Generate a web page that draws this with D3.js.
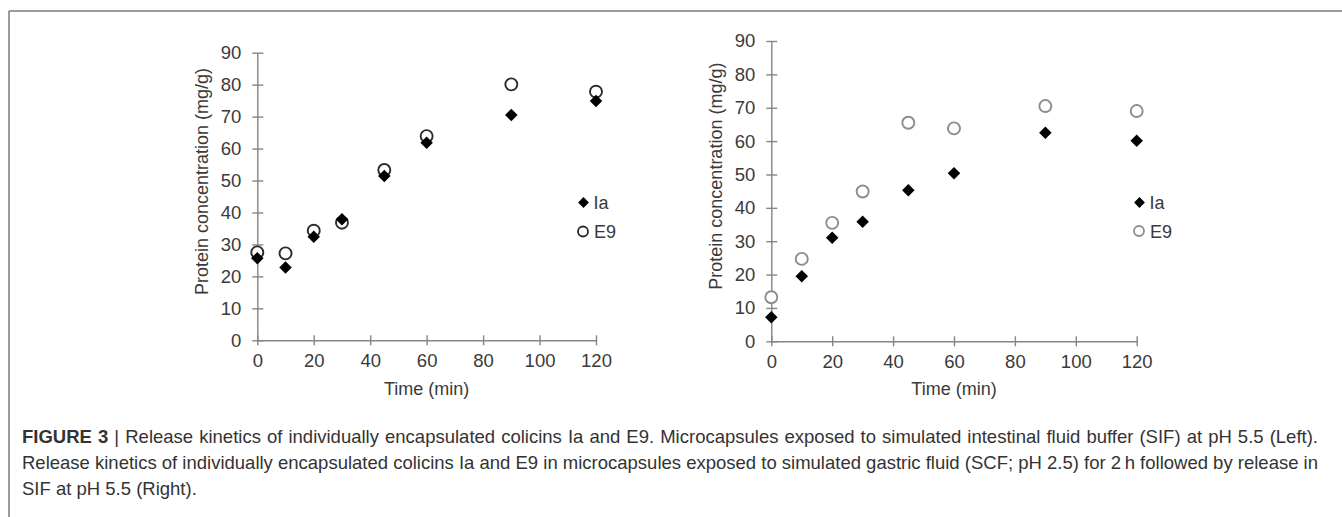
<!DOCTYPE html>
<html>
<head>
<meta charset="utf-8">
<script src="https://cdn.jsdelivr.net/npm/d3@7"></script>
<style>
  html, body { margin: 0; padding: 0; background: #fff; }
  svg { display: block; font-family: "Liberation Sans", Arial, sans-serif; }
</style>
</head>
<body>
<svg id="chart" width="1342" height="517"></svg>
<script>
// ---- Data ----
const times = [0, 10, 20, 30, 45, 60, 90, 120];
const leftIa = [25.7, 22.8, 32.4, 37.9, 51.4, 61.8, 70.5, 74.9];
const leftE9 = [27.5, 27.2, 34.3, 36.8, 53.3, 63.9, 80.1, 77.8];
const rightIa = [7.2, 19.5, 31.0, 35.8, 45.3, 50.4, 62.5, 60.1];
const rightE9 = [13.2, 24.7, 35.5, 44.9, 65.5, 63.8, 70.5, 69.0];
const seriesNames = ["Ia", "E9"];
const xTicks = [0, 20, 40, 60, 80, 100, 120];
const yTicks = [0, 10, 20, 30, 40, 50, 60, 70, 80, 90];
const xTitle = "Time (min)";
const yTitle = "Protein concentration (mg/g)";
const captionLines = [
  "Release kinetics of individually encapsulated colicins Ia and E9. Microcapsules exposed to simulated intestinal fluid buffer (SIF) at pH 5.5 (Left).",
  "Release kinetics of individually encapsulated colicins Ia and E9 in microcapsules exposed to simulated gastric fluid (SCF; pH 2.5) for 2\u2009h followed by release in",
  "SIF at pH 5.5 (Right)."
];

// ---- Layout ----
const svg = d3.select("#chart");
const axisColor = "#858585";
const textColor = "#3a3a3a";

// frame lines
svg.append("line").attr("x1", 9).attr("x2", 1342).attr("y1", 11).attr("y2", 11)
  .attr("stroke", "#7a7a7a").attr("stroke-width", 1.5);
svg.append("line").attr("x1", 9).attr("x2", 9).attr("y1", 11).attr("y2", 517)
  .attr("stroke", "#7a7a7a").attr("stroke-width", 1.5);

const panels = [
  { ia: leftIa, e9: leftE9, xr: [257.3, 596], yr: [340.3, 52.7], circleColor: "#2b2b2b",
    legendX: 583.5, legendY: [202.5, 231.5], yTitleX: 208 },
  { ia: rightIa, e9: rightE9, xr: [771.3, 1136.7], yr: [341.3, 41], circleColor: "#8c8c8c",
    legendX: 1139.5, legendY: [202.5, 231], yTitleX: 722 }
];

const diamond = (size) => d3.symbol().type(d3.symbolSquare).size(size)();

panels.forEach(p => {
  const x = d3.scaleLinear().domain([0, 120]).range(p.xr);
  const y = d3.scaleLinear().domain([0, 90]).range(p.yr);
  const g = svg.append("g");

  // y axis
  const ya = g.append("g").attr("transform", `translate(${p.xr[0]},0)`)
    .call(d3.axisLeft(y).tickValues(yTicks).tickSizeOuter(0).tickSizeInner(6).tickPadding(10));
  ya.select(".domain").attr("stroke", axisColor).attr("stroke-width", 1.4);
  ya.selectAll(".tick line").attr("x1", -5).attr("x2", 6).attr("stroke", axisColor).attr("stroke-width", 1.4);
  ya.selectAll(".tick text").attr("x", -16).attr("fill", textColor)
    .style("font-size", "18.5px").style("font-family", "'Liberation Sans', Arial, sans-serif");

  // x axis
  const xa = g.append("g").attr("transform", `translate(0,${p.yr[0]})`)
    .call(d3.axisBottom(x).tickValues(xTicks).tickSizeOuter(0).tickSizeInner(5).tickPadding(10));
  xa.select(".domain").attr("stroke", axisColor).attr("stroke-width", 1.4);
  xa.selectAll(".tick line").attr("y1", -5).attr("y2", 5).attr("stroke", axisColor).attr("stroke-width", 1.4);
  xa.selectAll(".tick text").attr("y", 14).attr("fill", textColor)
    .style("font-size", "18.5px").style("font-family", "'Liberation Sans', Arial, sans-serif");

  // titles
  g.append("text").attr("x", x(60)).attr("y", 395).attr("text-anchor", "middle")
    .attr("fill", textColor).style("font-size", "18px").text(xTitle);
  g.append("text").attr("transform", `translate(${p.yTitleX},${(p.yr[0] + p.yr[1]) / 2 - 15}) rotate(-90)`)
    .attr("text-anchor", "middle").attr("fill", textColor).style("font-size", "18px").text(yTitle);

  // E9 circles
  g.selectAll(".e9").data(times.map((t, i) => [t, p.e9[i]])).join("circle")
    .attr("cx", d => x(d[0])).attr("cy", d => y(d[1])).attr("r", 6)
    .attr("fill", "#fff").attr("stroke", p.circleColor).attr("stroke-width", 1.9);
  // Ia diamonds
  g.selectAll(".ia").data(times.map((t, i) => [t, p.ia[i]])).join("path")
    .attr("d", diamond(78))
    .attr("transform", d => `translate(${x(d[0])},${y(d[1])}) rotate(45)`)
    .attr("fill", "#000");

  // legend
  g.append("path").attr("d", diamond(58))
    .attr("transform", `translate(${p.legendX},${p.legendY[0]}) rotate(45)`).attr("fill", "#000");
  g.append("circle").attr("cx", p.legendX - 0.5).attr("cy", p.legendY[1]).attr("r", 5)
    .attr("fill", "#fff").attr("stroke", p.circleColor).attr("stroke-width", 1.8);
  g.append("text").attr("x", p.legendX + 10).attr("y", p.legendY[0] + 6.5)
    .attr("fill", textColor).style("font-size", "18px").text(seriesNames[0]);
  g.append("text").attr("x", p.legendX + 10.5).attr("y", p.legendY[1] + 6.5)
    .attr("fill", textColor).style("font-size", "18px").text(seriesNames[1]);
});

// ---- Caption ----
const capX = 22, capRight = 1318, capBase = [443, 469, 495];
const capFont = "18.5px";
captionLines.forEach((line, i) => {
  const t = svg.append("text").attr("x", capX).attr("y", capBase[i])
    .attr("fill", "#333").style("font-size", capFont);
  if (i === 0) {
    t.append("tspan").attr("font-weight", "bold").text("FIGURE 3");
    t.append("tspan").text(" | ");
  }
  t.append("tspan").text(line);
  if (i < 2) {
    const natural = t.node().getComputedTextLength();
    const fullText = (i === 0 ? "FIGURE 3 | " : "") + line;
    const spaces = (fullText.match(/ /g) || []).length;
    const extra = (capRight - capX - natural) / spaces;
    t.style("word-spacing", extra + "px");
  }
});
</script>
</body>
</html>
